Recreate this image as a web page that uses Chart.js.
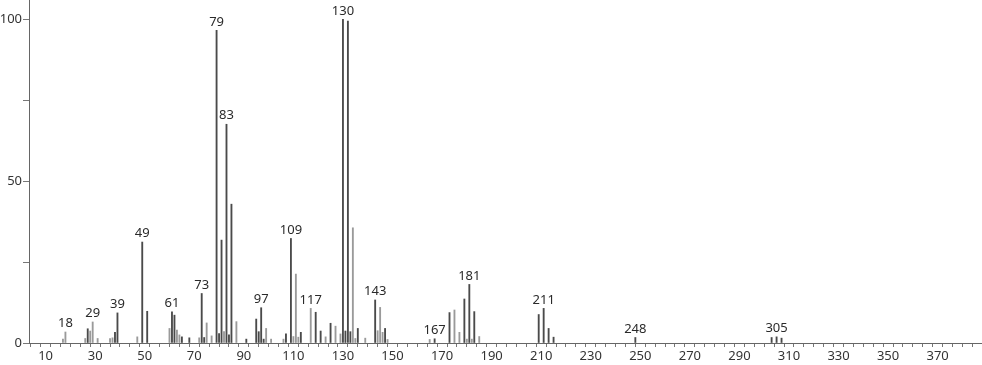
<!DOCTYPE html>
<html>
<head>
<meta charset="utf-8">
<script src="https://cdn.jsdelivr.net/npm/chart.js@4"></script>
<style>
  html, body { margin: 0; padding: 0; background: #fff; }
  #wrap { width: 982px; height: 365px; }
</style>
</head>
<body>
<div id="wrap"><canvas id="chart" width="982" height="365"></canvas></div>
<script>
// peaks drawn in dark grey
const darkMasses = [27, 38, 39, 49, 51, 61, 62, 65, 68, 73, 74, 79, 80, 81, 83, 84, 85, 91, 95, 96, 97, 98,
  107, 109, 113, 119, 121, 125, 130, 131, 132, 133, 136, 143, 147, 167, 173, 179, 181, 183,
  209, 211, 213, 215, 248, 303, 305, 307];
const darkIntensities = [4.4, 3.3, 9.3, 31.2, 9.8, 9.6, 8.6, 1.9, 1.6, 15.3, 1.7, 96.6, 2.9, 31.8, 67.6, 2.5, 42.9, 1.2, 7.4, 3.5, 10.9, 1.2,
  2.8, 32.3, 3.3, 9.5, 3.7, 6.1, 100, 3.7, 99.5, 3.5, 4.5, 13.3, 4.5, 1.3, 9.4, 13.6, 18.1, 9.7,
  8.8, 10.7, 4.5, 1.8, 1.7, 1.7, 1.9, 1.5];

// peaks drawn in light grey
const lightMasses = [17, 18, 26, 28, 29, 31, 36, 37, 47, 60, 63, 64, 72, 75, 77, 82, 87, 99, 101, 106,
  110, 111, 112, 117, 123, 127, 129, 134, 135, 139, 144, 145, 146, 148, 165, 175, 177, 180, 182, 185];
const lightIntensities = [1.2, 3.4, 1.4, 3.7, 6.5, 1.4, 1.4, 1.6, 1.9, 4.5, 4.0, 2.5, 1.6, 6.2, 2.2, 3.5, 6.6, 4.5, 1.2, 1.2,
  2.0, 21.3, 1.8, 10.7, 1.9, 5.2, 2.8, 35.6, 1.4, 1.5, 3.8, 11.0, 3.3, 1.1, 1.1, 10.2, 3.3, 1.2, 1.2, 2.0];

const labeledMasses = [18, 29, 39, 49, 61, 73, 79, 83, 97, 109, 117, 130, 143, 167, 181, 211, 248, 305];
const xTickLabels = [10, 30, 50, 70, 90, 110, 130, 150, 170, 190, 210, 230, 250, 270, 290, 310, 330, 350, 370];
const yTickLabels = [0, 50, 100];
const yTicks = [0, 25, 50, 75, 100];

const FONT = '"Noto Sans", "DejaVu Sans", sans-serif';

const toPoints = (xs, ys) => xs.map((m, i) => ({ x: m, y: ys[i] }));

const intensityOf = (m) => {
  let i = darkMasses.indexOf(m);
  if (i >= 0) return darkIntensities[i];
  i = lightMasses.indexOf(m);
  return i >= 0 ? lightIntensities[i] : 0;
};

const peakLabels = {
  id: 'peakLabels',
  afterDatasetsDraw(chart) {
    const { ctx, scales: { x, y } } = chart;
    ctx.save();
    ctx.font = '13px ' + FONT;
    ctx.fillStyle = '#2a2a2a';
    ctx.textAlign = 'center';
    ctx.textBaseline = 'bottom';
    labeledMasses.forEach(m => {
      ctx.fillText(String(m), x.getPixelForValue(m), y.getPixelForValue(intensityOf(m)) - 2);
    });
    ctx.restore();
  }
};

new Chart(document.getElementById('chart'), {
  type: 'bar',
  data: {
    datasets: [
      {
        data: toPoints(lightMasses, lightIntensities),
        backgroundColor: '#9a9a9a',
        barThickness: 1.2,
      },
      {
        data: toPoints(darkMasses, darkIntensities),
        backgroundColor: '#4a4a4a',
        barThickness: 1.2,
      },
    ],
  },
  options: {
    responsive: false,
    animation: false,
    devicePixelRatio: 1,
    layout: { padding: 0 },
    datasets: { bar: { grouped: false } },
    plugins: {
      legend: { display: false },
      tooltip: { enabled: false },
    },
    scales: {
      x: {
        type: 'linear',
        min: 3.3,
        max: 387.9,
        offset: false,
        afterBuildTicks: (scale) => {
          const t = [];
          for (let v = 6; v <= 386; v += 4) t.push({ value: v });
          scale.ticks = t;
        },
        ticks: {
          autoSkip: false,
          maxRotation: 0,
          padding: 1,
          color: '#333',
          font: { family: FONT, size: 13 },
          callback: (v) => xTickLabels.includes(v) ? String(v) : '',
        },
        grid: { display: true, drawOnChartArea: false, drawTicks: true, tickLength: 4, color: '#777' },
        border: { display: true, color: '#666', width: 1 },
        afterFit: (s) => { s.height = 22; s.paddingLeft = 0; s.paddingRight = 0; },
      },
      y: {
        min: 0,
        max: 106,
        afterBuildTicks: (scale) => {
          scale.ticks = yTicks.map(v => ({ value: v }));
        },
        ticks: {
          autoSkip: false,
          padding: 1,
          color: '#333',
          font: { family: FONT, size: 13 },
          callback: (v) => yTickLabels.includes(v) ? String(v) : '',
        },
        grid: { display: true, drawOnChartArea: false, drawTicks: true, tickLength: 6, color: '#777' },
        border: { display: true, color: '#666', width: 1 },
        afterFit: (s) => { s.width = 29; s.paddingTop = 0; s.paddingBottom = 0; },
      },
    },
  },
  plugins: [peakLabels],
});
</script>
</body>
</html>
